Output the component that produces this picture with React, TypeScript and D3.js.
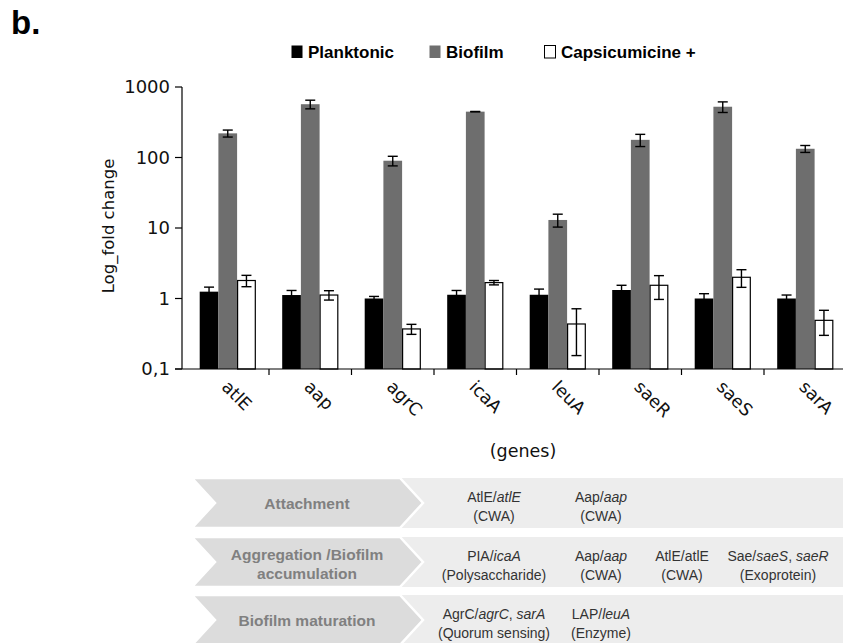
import * as d3 from 'd3'

// genes on the x axis
const genes = ['atlE', 'aap', 'agrC', 'icaA', 'leuA', 'saeR', 'saeS', 'sarA']

// fold change values (mean, error)
const planktonic = [1.25, 1.12, 1.0, 1.13, 1.13, 1.32, 1.0, 1.0]
const planktonicErr = [0.2, 0.18, 0.07, 0.17, 0.23, 0.22, 0.17, 0.12]
const biofilm = [220, 570, 90, 447, 13, 178, 525, 133]
const biofilmErr = [25, 80, 14, 3, 2.7, 35, 90, 15]
const capsi = [1.8, 1.12, 0.37, 1.68, 0.435, 1.54, 2.0, 0.49]
const capsiErr = [0.33, 0.17, 0.06, 0.12, 0.28, 0.57, 0.56, 0.19]

const seriesNames = ['Planktonic', 'Biofilm', 'Capsicumicine +']
const seriesFill = ['#000000', '#6e6e6e', '#ffffff']

const yTicks = [0.1, 1, 10, 100, 1000]
const yTickLabels = ['0,1', '1', '10', '100', '1000']

// table under the chart; *text* is italic
const stages = [['Attachment'], ['Aggregation /Biofilm', 'accumulation'], ['Biofilm maturation']]
const stageCells = [
  [['AtlE/*atlE*', '(CWA)'], ['Aap/*aap*', '(CWA)']],
  [['PIA/*icaA*', '(Polysaccharide)'], ['Aap/*aap*', '(CWA)'], ['AtlE/atlE', '(CWA)'], ['Sae/*saeS*, *saeR*', '(Exoprotein)']],
  [['AgrC/*agrC*, *sarA*', '(Quorum sensing)'], ['LAP/*leuA*', '(Enzyme)']],
]

const W = 843
const H = 643
const AXIS_X = 182
const PLOT = { left: 186.5, right: 846.5, top: 87, bottom: 369 }
const ROW_TOP = [478, 537, 595]
const ROW_H = 50
const COL_X = [494, 601, 682, 778]
const LEGEND_X = [291, 429, 544]
const SANS = '"Liberation Sans", Arial, sans-serif'
const WIDE = '"DejaVu Sans", Verdana, sans-serif'

function rich(s: string) {
  return s.split('*').map((part, i) => (
    <tspan key={i} fontStyle={i % 2 === 1 ? 'italic' : 'normal'}>
      {part}
    </tspan>
  ))
}

export default function App() {
  const x0 = d3
    .scaleBand<string>()
    .domain(genes)
    .range([PLOT.left, PLOT.right])
    .paddingInner(0.32)
    .paddingOuter(0.16)
  const x1 = d3.scaleBand<number>().domain([0, 1, 2]).range([0, x0.bandwidth()])
  const y = d3.scaleLog().domain([0.1, 1000]).range([PLOT.bottom, PLOT.top])
  const step = x0.step()

  const series = [
    { vals: planktonic, errs: planktonicErr },
    { vals: biofilm, errs: biofilmErr },
    { vals: capsi, errs: capsiErr },
  ]

  return (
    <svg
      width={W}
      height={H}
      style={{ position: 'absolute', left: 0, top: 0, background: '#fff' }}
    >
      <text x={11} y={34} fontFamily={SANS} fontWeight="bold" fontSize={33} fill="#000">
        b.
      </text>

      {/* legend */}
      {seriesNames.map((name, i) => (
        <g key={name} transform={`translate(${LEGEND_X[i]},45)`}>
          <rect
            x={0.5}
            y={0.5}
            width={11}
            height={12.5}
            fill={seriesFill[i]}
            stroke={i === 2 ? '#000' : 'none'}
            strokeWidth={1}
          />
          <text x={17} y={13} fontFamily={SANS} fontWeight="bold" fontSize={17} fill="#000">
            {name}
          </text>
        </g>
      ))}

      {/* y axis */}
      <line x1={AXIS_X} x2={AXIS_X} y1={PLOT.top} y2={PLOT.bottom} stroke="#000" strokeWidth={1.2} />
      {yTicks.map((t, i) => (
        <g key={t}>
          <line x1={AXIS_X - 7} x2={AXIS_X} y1={y(t)} y2={y(t)} stroke="#000" strokeWidth={1.2} />
          <text
            x={AXIS_X - 12}
            y={y(t) + 6}
            textAnchor="end"
            fontFamily={WIDE}
            fontSize={18}
            fill="#111"
          >
            {yTickLabels[i]}
          </text>
        </g>
      ))}
      <text
        transform={`translate(114,${(PLOT.top + PLOT.bottom) / 2 - 2}) rotate(-90)`}
        textAnchor="middle"
        fontFamily={WIDE}
        fontSize={16.5}
        fill="#111"
      >
        Log_fold change
      </text>

      {/* bars */}
      {genes.map((g, gi) => (
        <g key={g} transform={`translate(${x0(g)},0)`}>
          {series.map((s, si) => (
            <rect
              key={si}
              x={(x1(si) ?? 0) + (si === 2 ? 0.5 : 0)}
              y={y(s.vals[gi])}
              width={x1.bandwidth() - (si === 2 ? 1 : 0)}
              height={PLOT.bottom - y(s.vals[gi])}
              fill={seriesFill[si]}
              stroke={si === 2 ? '#000' : 'none'}
              strokeWidth={1.2}
            />
          ))}
          {series.map((s, si) => {
            const cx = (x1(si) ?? 0) + x1.bandwidth() / 2
            const hi = y(s.vals[gi] + s.errs[gi])
            const lo = y(s.vals[gi] - s.errs[gi])
            return (
              <g key={'e' + si} stroke="#000" strokeWidth={1.4}>
                <line x1={cx} x2={cx} y1={hi} y2={lo} />
                <line x1={cx - 5} x2={cx + 5} y1={hi} y2={hi} />
                <line x1={cx - 5} x2={cx + 5} y1={lo} y2={lo} />
              </g>
            )
          })}
        </g>
      ))}

      {/* x axis */}
      <line x1={AXIS_X - 7} x2={W} y1={PLOT.bottom} y2={PLOT.bottom} stroke="#000" strokeWidth={1.2} />
      {genes.slice(1).map((g) => {
        const bx = (x0(g) ?? 0) - (step - x0.bandwidth()) / 2
        return (
          <line key={g} x1={bx} x2={bx} y1={PLOT.bottom} y2={PLOT.bottom + 6} stroke="#000" strokeWidth={1.2} />
        )
      })}
      {genes.map((g) => {
        const cx = (x0(g) ?? 0) + x0.bandwidth() / 2
        return (
          <text
            key={g}
            transform={`translate(${cx - 7},388) rotate(45)`}
            fontFamily={WIDE}
            fontSize={17.5}
            fill="#111"
          >
            {g}
          </text>
        )
      })}
      <text x={523} y={457} textAnchor="middle" fontFamily={WIDE} fontSize={17.5} fill="#111">
        (genes)
      </text>

      {/* stage table */}
      {stages.map((lines, ri) => {
        const top = ROW_TOP[ri]
        const mid = top + ROW_H / 2
        const pts = [
          [192, top],
          [400, top],
          [423, mid],
          [400, top + ROW_H],
          [192, top + ROW_H],
          [215, mid],
        ]
        return (
          <g key={ri}>
            <rect x={300} y={top} width={W - 300} height={ROW_H} fill="#ededed" />
            <polygon
              points={pts.map((p) => p.join(',')).join(' ')}
              fill="#dcdcdc"
              stroke="#fff"
              strokeWidth={2.5}
              strokeLinejoin="miter"
            />
            {lines.map((l, li) => (
              <text
                key={li}
                x={307}
                y={lines.length === 1 ? mid + 6 : mid - 2 + li * 19}
                textAnchor="middle"
                fontFamily={SANS}
                fontWeight="bold"
                fontSize={15.5}
                fill="#808080"
              >
                {l}
              </text>
            ))}
            {stageCells[ri].map((cell, ci) => (
              <g key={ci}>
                {cell.map((l, li) => (
                  <text
                    key={li}
                    x={COL_X[ci]}
                    y={top + 24 + li * 18.5}
                    textAnchor="middle"
                    fontFamily={SANS}
                    fontSize={14}
                    fill="#333"
                  >
                    {rich(l)}
                  </text>
                ))}
              </g>
            ))}
          </g>
        )
      })}
    </svg>
  )
}
